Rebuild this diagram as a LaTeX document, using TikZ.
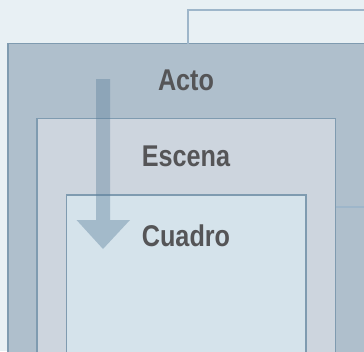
\documentclass[tikz,border=0pt]{standalone}
\usepackage{fontspec}
\newfontfamily\lblfont[FakeStretch=0.84]{Liberation Sans}
\definecolor{bgc}{RGB}{232,240,244}
\definecolor{actof}{RGB}{175,191,204}
\definecolor{escenaf}{RGB}{205,213,222}
\definecolor{cuadrof}{RGB}{213,227,235}
\definecolor{edgec}{RGB}{127,155,176}
\definecolor{linkc}{RGB}{158,182,202}
\definecolor{arrowc}{RGB}{90,126,154}
\definecolor{txtc}{RGB}{85,85,87}
\begin{document}
\begin{tikzpicture}[x=1pt,y=-1pt,
  box/.style={draw=edgec,line width=1.1pt,inner sep=0pt,outer sep=0pt,anchor=north west},
  lbl/.style={font=\lblfont\bfseries\fontsize{30}{36}\selectfont,text=txtc,anchor=base,inner sep=0pt},
  link/.style={draw=linkc,line width=2pt},
  flow/.style={fill=arrowc,fill opacity=0.4}]
\useasboundingbox (0,0) rectangle (364,351);
\clip (0,0) rectangle (364,351);
\fill[bgc] (0,0) rectangle (364,351);
% bracket line
\coordinate (b1) at (187.5,10);
\coordinate (b2) at (368,10);
\coordinate (r1) at (368,207);
% boxes
\node[box,fill=actof,minimum width=370pt,minimum height=330pt] (acto) at (8,43.5) {};
\node[box,fill=escenaf,minimum width=298.5pt,minimum height=250pt] (escena) at (37,118.5) {};
\node[box,fill=cuadrof,minimum width=239.5pt,minimum height=170pt] (cuadro) at (66.5,195) {};
\draw[link] (acto.north -| b1) -- (b1) -- (b2);
\draw[link] (escena.east |- r1) -- (r1);
% labels
\node[lbl] (tacto) at (186,90) {Acto};
\node[lbl] (tescena) at (186,166.5) {Escena};
\node[lbl] (tcuadro) at (186,246) {Cuadro};
% flow arrow
\fill[flow] (96,79) -- (110,79) -- (110,220) -- (130,220) -- (103,249) -- (76.5,220) -- (96,220) -- cycle;
\end{tikzpicture}
\end{document}
